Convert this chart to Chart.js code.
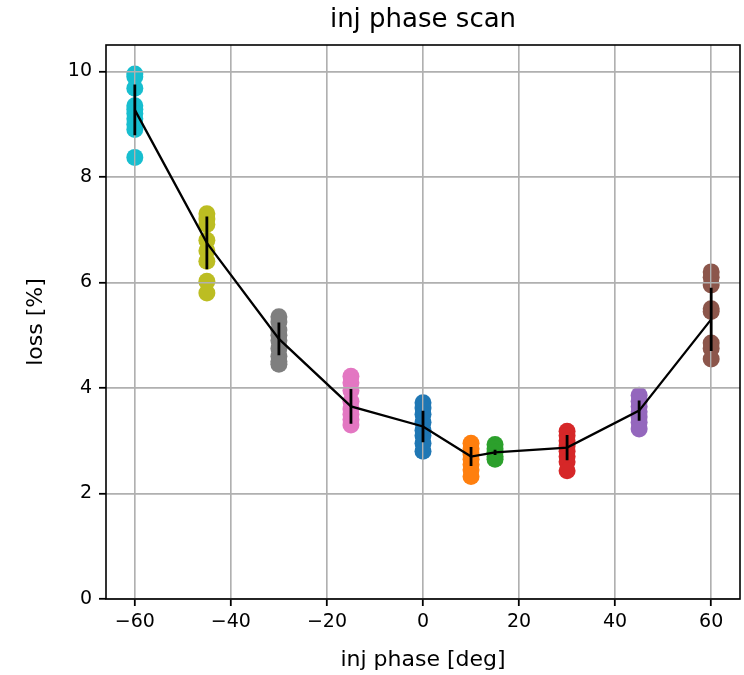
<!DOCTYPE html>
<html>
<head>
<meta charset="utf-8">
<script src="https://cdn.jsdelivr.net/npm/chart.js@4.4.1/dist/chart.umd.min.js"></script>
<style>
  html, body { margin: 0; padding: 0; background: #fff; }
</style>
</head>
<body>
<canvas id="scan" width="744" height="675"></canvas>
<script>
// shots per phase setting, in the order they were taken (colour cycle follows it)
const phases = [0, 10, 15, 30, 45, 60, -15, -30, -45, -60];
const losses = [
  [3.72, 3.62, 3.5, 3.35, 3.2, 3.1, 2.95, 2.8],
  [2.95, 2.85, 2.75, 2.65, 2.55, 2.45, 2.32],
  [2.93, 2.85, 2.78, 2.7, 2.65],
  [3.18, 3.1, 3.0, 2.9, 2.8, 2.7, 2.6, 2.43],
  [3.86, 3.75, 3.65, 3.55, 3.45, 3.35, 3.22],
  [6.2, 6.1, 5.95, 5.5, 5.45, 4.85, 4.75, 4.55],
  [4.22, 4.1, 3.95, 3.75, 3.6, 3.5, 3.4, 3.3],
  [5.35, 5.25, 5.1, 5.0, 4.9, 4.75, 4.6, 4.5, 4.45],
  [7.3, 7.2, 7.1, 6.8, 6.6, 6.4, 6.02, 5.8],
  [9.95, 9.9, 9.68, 9.35, 9.28, 9.2, 9.1, 9.0, 8.9, 8.37]
];
const colors = ['#1f77b4', '#ff7f0e', '#2ca02c', '#d62728', '#9467bd',
                '#8c564b', '#e377c2', '#7f7f7f', '#bcbd22', '#17becf'];

// mean +- std per setting, sorted by phase
const meanPhase = [-60, -45, -30, -15, 0, 10, 15, 30, 45, 60];
const meanLoss = [9.27, 6.75, 4.93, 3.65, 3.27, 2.7, 2.78, 2.87, 3.57, 5.3];
const stdLoss = [0.48, 0.5, 0.31, 0.33, 0.3, 0.18, 0.05, 0.24, 0.19, 0.6];

const xTicks = [-60, -40, -20, 0, 20, 40, 60];
const yTicks = [0, 2, 4, 6, 8, 10];

Chart.defaults.font.family = "'DejaVu Sans', sans-serif";
Chart.defaults.color = '#000';

const meanPoints = meanPhase.map((p, i) => ({ x: p, y: meanLoss[i] }));
const errPoints = [];
meanPhase.forEach((p, i) => {
  errPoints.push({ x: p, y: meanLoss[i] - stdLoss[i] });
  errPoints.push({ x: p, y: meanLoss[i] + stdLoss[i] });
  errPoints.push({ x: p, y: null });
});

const datasets = [
  {
    type: 'line', id: 'mean', data: meanPoints, order: 0,
    borderColor: '#000', borderWidth: 2.3, pointRadius: 0, tension: 0
  },
  {
    type: 'line', id: 'err', data: errPoints, order: 0, spanGaps: false,
    borderColor: '#000', borderWidth: 2.8, pointRadius: 0, borderCapStyle: 'butt'
  }
];
phases.forEach((p, i) => {
  datasets.push({
    data: losses[i].map(v => ({ x: p, y: v })),
    order: 1,
    backgroundColor: colors[i],
    borderColor: colors[i],
    borderWidth: 0,
    pointRadius: 8.5,
    pointHoverRadius: 8.5
  });
});

// grid sits on top of the dots but under the mean line, like matplotlib
let gridRedrawn = false;
const gridOverDots = {
  id: 'gridOverDots',
  beforeDraw() { gridRedrawn = false; },
  beforeDatasetDraw(chart, args) {
    const ds = chart.data.datasets[args.index];
    if (!gridRedrawn && (ds.id === 'mean' || ds.id === 'err')) {
      chart.scales.x.drawGrid(chart.chartArea);
      chart.scales.y.drawGrid(chart.chartArea);
      gridRedrawn = true;
    }
  }
};

const frame = {
  id: 'frame',
  afterDraw(chart) {
    const { ctx, chartArea: a } = chart;
    ctx.save();
    ctx.strokeStyle = '#000';
    ctx.lineWidth = 1.6;
    ctx.strokeRect(a.left, a.top, a.right - a.left, a.bottom - a.top);
    ctx.fillStyle = '#000';
    ctx.font = "26px 'DejaVu Sans', sans-serif";
    ctx.textAlign = 'center';
    ctx.textBaseline = 'middle';
    ctx.fillText('inj phase scan', (a.left + a.right) / 2, 20);
    ctx.restore();
  }
};

const minus = v => String(v).replace('-', '\u2212');

new Chart(document.getElementById('scan'), {
  type: 'scatter',
  data: { datasets },
  plugins: [gridOverDots, frame],
  options: {
    responsive: false,
    animation: false,
    layout: { autoPadding: false, padding: { top: 45, right: 4, left: 0, bottom: 0 } },
    plugins: { legend: { display: false }, tooltip: { enabled: false } },
    scales: {
      x: {
        type: 'linear', min: -66, max: 66,
        afterFit: s => { s.height = 76; s.paddingLeft = 0; s.paddingRight = 0; },
        afterBuildTicks: s => { s.ticks = xTicks.map(v => ({ value: v })); },
        border: { display: false },
        grid: { color: '#b0b0b0', lineWidth: 1.4, tickColor: '#000', tickLength: 7, tickWidth: 1.5 },
        ticks: { font: { size: 19 }, padding: 5, maxRotation: 0, callback: minus },
        title: { display: true, text: 'inj phase [deg]', font: { size: 22 }, padding: { top: 0, bottom: 2 } }
      },
      y: {
        type: 'linear', min: 0, max: 10.5,
        afterFit: s => { s.width = 106; s.paddingTop = 0; s.paddingBottom = 0; },
        afterBuildTicks: s => { s.ticks = yTicks.map(v => ({ value: v })); },
        border: { display: false },
        grid: { color: '#b0b0b0', lineWidth: 1.4, tickColor: '#000', tickLength: 7, tickWidth: 1.5 },
        ticks: { font: { size: 19 }, padding: 7, callback: minus },
        title: { display: true, text: 'loss [%]', font: { size: 22 }, padding: { top: 23, bottom: 0 } }
      }
    }
  }
});
</script>
</body>
</html>
